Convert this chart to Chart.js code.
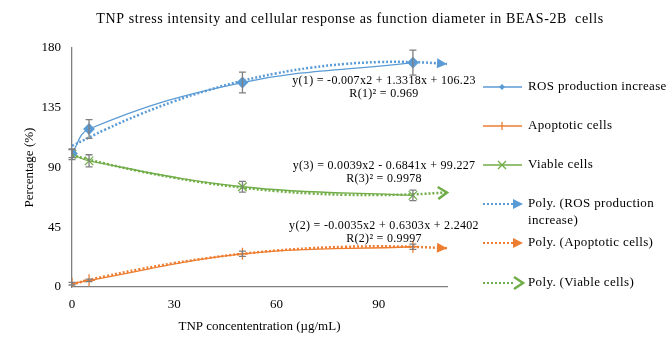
<!DOCTYPE html>
<html>
<head>
<meta charset="utf-8">
<script src="https://cdn.jsdelivr.net/npm/chart.js@4"></script>
<style>
  html, body { margin: 0; padding: 0; background: #fff; }
  #wrap { width: 672px; height: 338px; position: relative; }
</style>
</head>
<body>
<div id="wrap"><canvas id="chart" width="672" height="338"></canvas></div>
<script>
/* global Chart */

// measured points (TNP concentration, µg/mL)
const concentrations = [0, 5, 50, 100];
const rosValues = [100.5, 119, 154, 169];
const rosErrors = [3, 7, 7.8, 9.4];
const apoptoticValues = [2.5, 5, 25, 30.3];
const apoptoticErrors = [1, 1, 2, 2];
const viableValues = [100, 95, 75.5, 69];
const viableErrors = [4, 4.6, 4, 4];

// polynomial trend lines, read at steps of 10
const trendX = [0, 10, 20, 30, 40, 50, 60, 70, 80, 90, 100, 110];
const rosTrend = [106.23, 118.85, 130.07, 139.88, 148.30, 155.32, 160.94, 165.16, 167.97, 169.39, 169.41, 168.03];
const apoptoticTrend = [2.24, 8.19, 13.45, 18.00, 21.85, 25.01, 27.46, 29.21, 30.26, 30.62, 30.27, 29.22];
const viableTrend = [99.23, 92.78, 87.11, 82.21, 78.10, 74.77, 72.22, 70.45, 69.46, 69.25, 69.82, 71.17];

const yTicks = [0, 45, 90, 135, 180];
const xTicks = [0, 30, 60, 90];

const chartTitle = 'TNP stress intensity and cellular response as function diameter in BEAS-2B  cells';
const equations = [
    ['y(1) = -0.007x2 + 1.3318x + 106.23', 'R(1)² = 0.969'],
    ['y(3) = 0.0039x2 - 0.6841x + 99.227', 'R(3)² = 0.9978'],
    ['y(2) = -0.0035x2 + 0.6303x + 2.2402', 'R(2)² = 0.9997']
];

const BLUE = '#5B9BD5';
const ORANGE = '#ED7D31';
const GREEN = '#70AD47';
const FONT = '"Liberation Serif", "Times New Roman", serif';

function pts(xs, ys) {
    return xs.map((x, i) => ({ x: x, y: ys[i] }));
}

// error bars + trend arrowheads + equations + legend + title
const decorPlugin = {
    id: 'decor',
    afterDatasetsDraw(chart) {
        const ctx = chart.ctx;
        const xs = chart.scales.x;
        const ys = chart.scales.y;

        // error bars
        ctx.save();
        ctx.strokeStyle = '#7f7f7f';
        ctx.lineWidth = 1.3;
        chart.data.datasets.forEach(ds => {
            if (!ds.errors) return;
            ds.data.forEach((p, i) => {
                const px = xs.getPixelForValue(p.x);
                const top = ys.getPixelForValue(p.y + ds.errors[i]);
                const bot = ys.getPixelForValue(p.y - ds.errors[i]);
                ctx.beginPath();
                ctx.moveTo(px, top); ctx.lineTo(px, bot);
                ctx.moveTo(px - 3.5, top); ctx.lineTo(px + 3.5, top);
                ctx.moveTo(px - 3.5, bot); ctx.lineTo(px + 3.5, bot);
                ctx.stroke();
            });
        });
        ctx.restore();

        // arrowheads on trend lines
        chart.data.datasets.forEach(ds => {
            if (!ds.arrow) return;
            const n = ds.data.length;
            const a = ds.data[n - 2], b = ds.data[n - 1];
            const x1 = xs.getPixelForValue(a.x), y1 = ys.getPixelForValue(a.y);
            const x2 = xs.getPixelForValue(b.x), y2 = ys.getPixelForValue(b.y);
            drawArrow(ctx, x2, y2, Math.atan2(y2 - y1, x2 - x1), ds.borderColor, ds.arrow);
        });

        // trend equations
        ctx.save();
        ctx.font = '12px ' + FONT;
        ctx.letterSpacing = '0.3px';
        ctx.fillStyle = '#000';
        ctx.textAlign = 'center';
        ctx.textBaseline = 'middle';
        const eqY = [81, 166, 226];
        equations.forEach((eq, i) => {
            ctx.fillText(eq[0], 384, eqY[i]);
            ctx.fillText(eq[1], 384, eqY[i] + 13);
        });
        ctx.restore();

        // title, stretched to Excel-like width
        ctx.save();
        ctx.font = '14px ' + FONT;
        const w = ctx.measureText(chartTitle).width;
        ctx.letterSpacing = Math.max(0, (507 - w) / chartTitle.length).toFixed(2) + 'px';
        ctx.fillStyle = '#000';
        ctx.textAlign = 'center';
        ctx.textBaseline = 'middle';
        ctx.fillText(chartTitle, 350, 19);
        ctx.restore();

        drawLegend(ctx);
    }
};

function drawArrow(ctx, x, y, ang, color, kind) {
    ctx.save();
    ctx.translate(x, y);
    ctx.rotate(ang);
    ctx.fillStyle = color;
    ctx.strokeStyle = color;
    if (kind === 'open') {
        ctx.lineWidth = 2.5;
        ctx.beginPath();
        ctx.moveTo(-9, -6); ctx.lineTo(0, 0); ctx.lineTo(-9, 6);
        ctx.stroke();
    } else {
        ctx.beginPath();
        ctx.moveTo(0, 0); ctx.lineTo(-10, -5); ctx.lineTo(-10, 5);
        ctx.closePath();
        ctx.fill();
    }
    ctx.restore();
}

function drawLegend(ctx) {
    const items = [
        { y: 87, color: BLUE, marker: 'diamond', text: ['ROS production increase'] },
        { y: 126, color: ORANGE, marker: 'plus', text: ['Apoptotic cells'] },
        { y: 165, color: GREEN, marker: 'x', text: ['Viable cells'] },
        { y: 204, color: BLUE, arrow: 'solid', text: ['Poly. (ROS production', 'increase)'] },
        { y: 243, color: ORANGE, arrow: 'solid', text: ['Poly. (Apoptotic cells)'] },
        { y: 283, color: GREEN, arrow: 'open', text: ['Poly. (Viable cells)'] }
    ];
    ctx.save();
    items.forEach(it => {
        ctx.strokeStyle = it.color;
        ctx.fillStyle = it.color;
        if (it.arrow) {
            ctx.lineWidth = 2;
            ctx.setLineDash([2, 2]);
            ctx.beginPath();
            ctx.moveTo(483, it.y); ctx.lineTo(515, it.y);
            ctx.stroke();
            ctx.setLineDash([]);
            drawArrow(ctx, 523, it.y, 0, it.color, it.arrow);
        } else {
            ctx.lineWidth = 1.3;
            ctx.beginPath();
            ctx.moveTo(483, it.y); ctx.lineTo(522, it.y);
            ctx.stroke();
            const cx = 502;
            ctx.beginPath();
            if (it.marker === 'diamond') {
                ctx.moveTo(cx, it.y - 3); ctx.lineTo(cx + 3, it.y);
                ctx.lineTo(cx, it.y + 3); ctx.lineTo(cx - 3, it.y);
                ctx.closePath(); ctx.fill();
            } else if (it.marker === 'plus') {
                ctx.moveTo(cx, it.y - 4); ctx.lineTo(cx, it.y + 4); ctx.stroke();
            } else {
                ctx.moveTo(cx - 4, it.y - 4); ctx.lineTo(cx + 4, it.y + 4);
                ctx.moveTo(cx - 4, it.y + 4); ctx.lineTo(cx + 4, it.y - 4);
                ctx.stroke();
            }
        }
        ctx.fillStyle = '#000';
        ctx.font = '13px ' + FONT;
        ctx.letterSpacing = '0.35px';
        ctx.textBaseline = 'middle';
        ctx.textAlign = 'left';
        it.text.forEach((t, k) => ctx.fillText(t, 528, it.y + k * 17));
        ctx.letterSpacing = '0px';
    });
    ctx.restore();
}

const datasets = [
    {
        label: 'Poly. (ROS production increase)',
        data: pts(trendX, rosTrend),
        borderColor: BLUE, borderWidth: 2.5, borderDash: [2, 2],
        pointRadius: 0, tension: 0.4, arrow: 'solid'
    },
    {
        label: 'Poly. (Apoptotic cells)',
        data: pts(trendX, apoptoticTrend),
        borderColor: ORANGE, borderWidth: 2.5, borderDash: [2, 2],
        pointRadius: 0, tension: 0.4, arrow: 'solid'
    },
    {
        label: 'Poly. (Viable cells)',
        data: pts(trendX, viableTrend),
        borderColor: GREEN, borderWidth: 2.5, borderDash: [2, 2],
        pointRadius: 0, tension: 0.4, arrow: 'open'
    },
    {
        label: 'ROS production increase',
        data: pts(concentrations, rosValues),
        errors: rosErrors,
        borderColor: BLUE, backgroundColor: BLUE, borderWidth: 1.3,
        pointStyle: 'rectRot', pointRadius: 5, tension: 0.4
    },
    {
        label: 'Apoptotic cells',
        data: pts(concentrations, apoptoticValues),
        errors: apoptoticErrors,
        borderColor: ORANGE, backgroundColor: ORANGE, borderWidth: 1.3,
        pointStyle: 'cross', pointRadius: 6, pointBorderWidth: 1.3, tension: 0.4
    },
    {
        label: 'Viable cells',
        data: pts(concentrations, viableValues),
        errors: viableErrors,
        borderColor: GREEN, backgroundColor: GREEN, borderWidth: 1.3,
        pointStyle: 'crossRot', pointRadius: 6, pointBorderWidth: 1.3, tension: 0.4
    }
];

new Chart(document.getElementById('chart'), {
    type: 'line',
    data: { datasets: datasets },
    options: {
        responsive: false,
        animation: false,
        layout: { padding: { top: 48, right: 225, left: 0, bottom: 0 } },
        scales: {
            x: {
                type: 'linear', min: 0, max: 110,
                grid: { display: false },
                border: { display: true, color: '#808080', width: 1.3 },
                afterBuildTicks: s => { s.ticks = xTicks.map(v => ({ value: v })); },
                ticks: { color: '#000', font: { family: FONT, size: 13 }, padding: 2 },
                title: {
                    display: true, text: 'TNP concententration (µg/mL)',
                    color: '#000', font: { family: FONT, size: 13 }, padding: { top: 2 }
                },
                afterFit: s => { s.height = 51; }
            },
            y: {
                min: 0, max: 180,
                grid: { display: false },
                border: { display: true, color: '#808080', width: 1.3 },
                afterBuildTicks: s => { s.ticks = yTicks.map(v => ({ value: v })); },
                ticks: { color: '#000', font: { family: FONT, size: 13 }, padding: 3 },
                title: {
                    display: true, text: 'Percentage (%)',
                    color: '#000', font: { family: FONT, size: 13 }, padding: { top: 22 }
                },
                afterFit: s => { s.width = 72; }
            }
        },
        plugins: {
            legend: { display: false },
            tooltip: { enabled: false },
            title: { display: false }
        }
    },
    plugins: [decorPlugin]
});
</script>
</body>
</html>
